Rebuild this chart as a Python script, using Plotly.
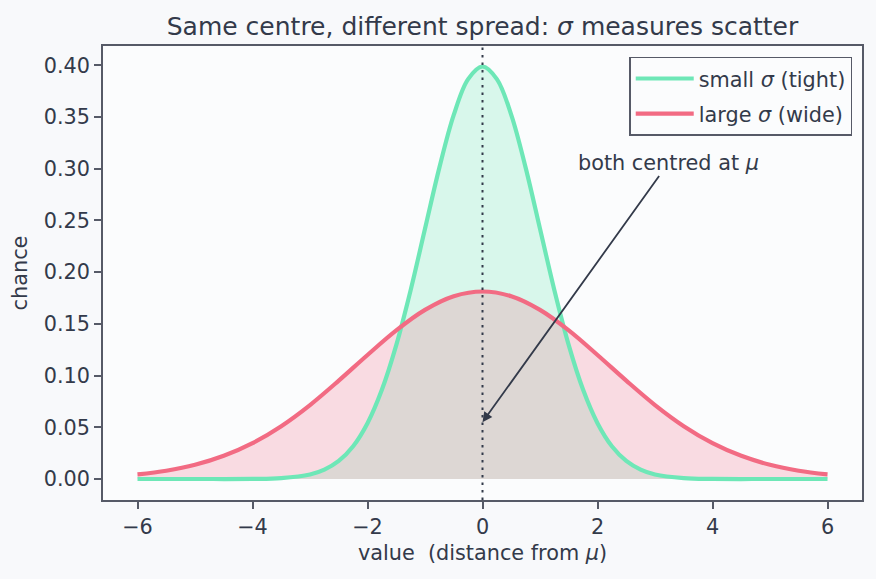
import plotly.graph_objects as go

# ---- data ----
x_small = [-6, -5, -4, -3.5, -3, -2.75, -2.5, -2.25, -2, -1.75, -1.5, -1.25, -1, -0.75, -0.5, -0.25, 0,
           0.25, 0.5, 0.75, 1, 1.25, 1.5, 1.75, 2, 2.25, 2.5, 2.75, 3, 3.5, 4, 5, 6]
y_small = [0.0000, 0.0000, 0.0001, 0.0009, 0.0044, 0.0091, 0.0175, 0.0317, 0.0540, 0.0863, 0.1295, 0.1826,
           0.2420, 0.3011, 0.3521, 0.3867, 0.3989,
           0.3867, 0.3521, 0.3011, 0.2420, 0.1826, 0.1295, 0.0863, 0.0540, 0.0317, 0.0175, 0.0091, 0.0044,
           0.0009, 0.0001, 0.0000, 0.0000]

x_large = [-6, -5.5, -5, -4.5, -4, -3.5, -3, -2.5, -2, -1.5, -1, -0.5, 0,
           0.5, 1, 1.5, 2, 2.5, 3, 3.5, 4, 4.5, 5, 5.5, 6]
y_large = [0.0044, 0.0080, 0.0137, 0.0224, 0.0347, 0.0511, 0.0715, 0.0951, 0.1199, 0.1437, 0.1635, 0.1767, 0.1813,
           0.1767, 0.1635, 0.1437, 0.1199, 0.0951, 0.0715, 0.0511, 0.0347, 0.0224, 0.0137, 0.0080, 0.0044]

x_ticks = [-6, -4, -2, 0, 2, 4, 6]
y_ticks = [0.00, 0.05, 0.10, 0.15, 0.20, 0.25, 0.30, 0.35, 0.40]

names = ["small <i>σ</i> (tight)", "large <i>σ</i> (wide)"]
title = "Same centre, different spread: <i>σ</i> measures scatter"
x_label = "value\u00a0 (distance from <i>μ</i>)"
y_label = "chance"
note = "both centred at <i>μ</i>"
mu = 0
arrow_head = (0, 0.055)
arrow_text = (3.24, 0.306)

GREEN = "#6ee7b7"
RED = "#f26b83"
INK = "#333a4a"
FRAME = "#565a67"
FONT = "DejaVu Sans"

fig = go.Figure()
# fills
fig.add_trace(go.Scatter(x=x_small, y=y_small, mode="lines", line=dict(width=0, shape="spline", color=GREEN),
                         fill="tozeroy", fillcolor="rgba(110,231,183,0.25)", showlegend=False, hoverinfo="skip"))
fig.add_trace(go.Scatter(x=x_large, y=y_large, mode="lines", line=dict(width=0, shape="spline", color=RED),
                         fill="tozeroy", fillcolor="rgba(242,107,131,0.22)", showlegend=False, hoverinfo="skip"))
# lines
fig.add_trace(go.Scatter(x=x_small, y=y_small, mode="lines", name=names[0], legendgroup="a",
                         line=dict(width=4.2, shape="spline", color=GREEN)))
fig.add_trace(go.Scatter(x=x_large, y=y_large, mode="lines", name=names[1], legendgroup="b",
                         line=dict(width=4.2, shape="spline", color=RED)))

fig.add_shape(type="line", xref="x", yref="paper", x0=mu, x1=mu, y0=0, y1=1,
              line=dict(color=INK, width=2, dash="2.5px,5px"))

fig.add_annotation(x=arrow_head[0], y=arrow_head[1], ax=arrow_text[0], ay=arrow_text[1],
                   xref="x", yref="y", axref="x", ayref="y", text=note, showarrow=True,
                   arrowhead=2, arrowsize=1.1, arrowwidth=1.8, arrowcolor=INK,
                   font=dict(family=FONT, size=20.8, color=INK))

axis_common = dict(showline=True, mirror=True, linecolor=FRAME, linewidth=1.6, showgrid=False, zeroline=False,
                   ticks="outside", ticklen=7, tickwidth=1.6, tickcolor=FRAME,
                   tickfont=dict(family=FONT, size=20.8, color=INK))

fig.update_layout(
    width=876, height=579,
    margin=dict(l=103, r=14, t=46, b=79),
    paper_bgcolor="#f8f9fb", plot_bgcolor="#fbfcfd",
    font=dict(family=FONT, size=20.8, color=INK),
    title=dict(text=title, x=0.5, xref="paper", y=1, yref="paper", yanchor="bottom",
               xanchor="center", pad=dict(b=11), font=dict(family=FONT, size=25, color=INK)),
    xaxis=dict(range=[-6.6, 6.6], tickvals=x_ticks, ticktext=[f"{v}".replace("-", "\u2212") for v in x_ticks],
               title=dict(text=x_label, standoff=8, font=dict(family=FONT, size=20.8, color=INK)), **axis_common),
    yaxis=dict(range=[-0.0203, 0.4187], tickvals=y_ticks, ticktext=[f"{v:.2f}" for v in y_ticks],
               title=dict(text=y_label, standoff=10, font=dict(family=FONT, size=20.8, color=INK)), **axis_common),
    legend=dict(x=0.987, y=0.976, xanchor="right", yanchor="top", bgcolor="#fbfcfd",
                bordercolor=FRAME, borderwidth=1.6, font=dict(family=FONT, size=20.8, color=INK),
                tracegroupgap=5, itemwidth=58),
    showlegend=True,
)

fig.write_html("out.html")
